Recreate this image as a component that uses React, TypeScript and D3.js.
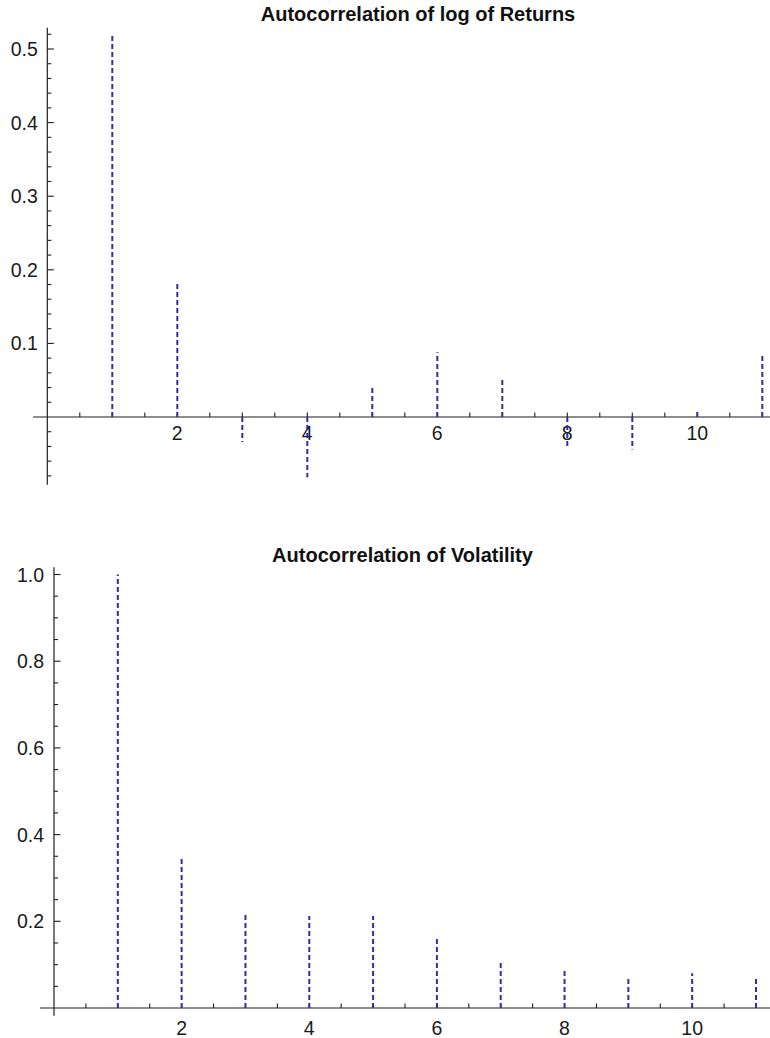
import React from "react";
import * as d3 from "d3";

const lags = [1, 2, 3, 4, 5, 6, 7, 8, 9, 10, 11];
const returnsAcf = [0.519, 0.181, -0.034, -0.082, 0.043, 0.088, 0.054, -0.041, -0.044, 0.01, 0.085];
const volatilityAcf = [1.0, 0.347, 0.2145, 0.212, 0.212, 0.163, 0.108, 0.092, 0.074, 0.08, 0.074];
const returnsYTicks = [0.1, 0.2, 0.3, 0.4, 0.5];
const volatilityYTicks = [0.2, 0.4, 0.6, 0.8, 1.0];
const xTickLabels = [2, 4, 6, 8, 10];

const FONT = "'Liberation Sans', Arial, Helvetica, sans-serif";
const LINE = "#2e2ea6";
const AXIS = "#1e1e1e";

type PanelProps = {
  title: string;
  titleX: number;
  titleY: number;
  values: number[];
  xRange: [number, number];
  yRange: [number, number];
  yMax: number;
  xExtent: [number, number];
  yExtent: [number, number];
  majorY: number[];
  minorStep: number;
  xLabelOffset: number;
  yLabelGap: number;
  yFmt: (v: number) => string;
};

function Panel(p: PanelProps) {
  const x = d3.scaleLinear().domain([0, 11]).range(p.xRange);
  const y = d3.scaleLinear().domain([0, p.yMax]).range(p.yRange);
  const x0 = x(0);
  const y0 = y(0);
  const minorY: number[] = [];
  const nLo = Math.ceil(p.yExtent[0] / p.minorStep - 1e-9);
  const nHi = Math.floor(p.yExtent[1] / p.minorStep + 1e-9);
  for (let i = nLo; i <= nHi; i++) {
    const v = +(i * p.minorStep).toFixed(4);
    if (Math.abs(v) < 1e-9) continue;
    if (p.majorY.some((m) => Math.abs(m - v) < 1e-6)) continue;
    minorY.push(v);
  }
  const xTicks = d3.range(1, 23).map((i) => i * 0.5);
  return (
    <g>
      <text
        x={p.titleX}
        y={p.titleY}
        textAnchor="middle"
        fontFamily={FONT}
        fontWeight="bold"
        fontSize={20}
        fill="#111"
      >
        {p.title}
      </text>
      {/* x axis */}
      <line x1={x(p.xExtent[0])} x2={x(p.xExtent[1])} y1={y0} y2={y0} stroke={AXIS} strokeWidth={1.2} />
      {xTicks.map((t) => (
        <line key={"xt" + t} x1={x(t)} x2={x(t)} y1={y0} y2={y0 - 4.5} stroke={AXIS} strokeWidth={1.1} />
      ))}
      {xTickLabels.map((t) => (
        <text
          key={"xl" + t}
          x={x(t)}
          y={y0 + p.xLabelOffset}
          textAnchor="middle"
          fontFamily={FONT}
          fontSize={19.5}
          fill="#1a1a1a"
        >
          {t}
        </text>
      ))}
      {/* y axis */}
      <line x1={x0} x2={x0} y1={y(p.yExtent[0])} y2={y(p.yExtent[1])} stroke={AXIS} strokeWidth={1.2} />
      {p.majorY.map((t) => (
        <g key={"yt" + t}>
          <line x1={x0} x2={x0 + 6.5} y1={y(t)} y2={y(t)} stroke={AXIS} strokeWidth={1.1} />
          <text
            x={x0 - p.yLabelGap}
            y={y(t)}
            dy="0.36em"
            textAnchor="end"
            fontFamily={FONT}
            fontSize={19.5}
            fill="#1a1a1a"
          >
            {p.yFmt(t)}
          </text>
        </g>
      ))}
      {minorY.map((t) => (
        <line key={"ym" + t} x1={x0} x2={x0 + 4} y1={y(t)} y2={y(t)} stroke={AXIS} strokeWidth={1.1} />
      ))}
      {/* stems */}
      {lags.map((l, i) => (
        <line
          key={"s" + l}
          x1={x(l)}
          x2={x(l)}
          y1={y0}
          y2={y(p.values[i])}
          stroke={LINE}
          strokeWidth={2}
          strokeDasharray="5,3"
        />
      ))}
    </g>
  );
}

export default function App() {
  return (
    <svg
      width={770}
      height={1038}
      style={{ position: "absolute", left: 0, top: 0, background: "#fff" }}
    >
      <rect width={770} height={1038} fill="#fff" />
      <Panel
        title="Autocorrelation of log of Returns"
        titleX={418}
        titleY={20.5}
        values={returnsAcf}
        xRange={[47.3, 762.3]}
        yRange={[417, 49]}
        yMax={0.5}
        xExtent={[-0.22, 11.2]}
        yExtent={[-0.092, 0.529]}
        majorY={returnsYTicks}
        minorStep={0.02}
        xLabelOffset={23}
        yLabelGap={9.5}
        yFmt={(v) => d3.format(".1f")(v)}
      />
      <Panel
        title="Autocorrelation of Volatility"
        titleX={402.5}
        titleY={562}
        values={volatilityAcf}
        xRange={[54, 756]}
        yRange={[1008, 574.5]}
        yMax={1.0}
        xExtent={[-0.22, 11.3]}
        yExtent={[-0.018, 1.017]}
        majorY={volatilityYTicks}
        minorStep={0.05}
        xLabelOffset={27.2}
        yLabelGap={10}
        yFmt={(v) => d3.format(".1f")(v)}
      />
    </svg>
  );
}
